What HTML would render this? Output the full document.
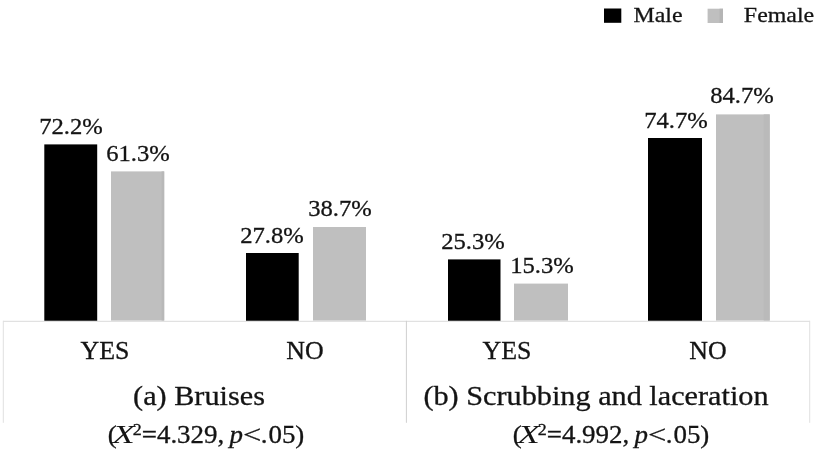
<!DOCTYPE html>
<html><head><meta charset="utf-8">
<style>
html,body{margin:0;padding:0;background:#fff;}
body{width:819px;height:465px;position:relative;overflow:hidden;font-family:"Liberation Serif",serif;color:#141414;}
svg{position:absolute;left:0;top:0;}
.t{-webkit-text-stroke:0.3px #141414;will-change:transform;position:absolute;white-space:nowrap;line-height:1;transform:translateX(-50%) scaleX(var(--sx,1));}
.v{font-size:23px;--sx:1.07;}
.lg{font-size:22px;--sx:1.085;}
.c{font-size:24.3px;--sx:1.065;}
.h{font-size:27.5px;--sx:1.10;}
.s{font-size:24.5px;--sx:1.10;word-spacing:-1.4px;}
.s i.x{-webkit-text-stroke:0;display:inline-block;transform:scaleX(1.35);margin:0 1.0px 0 -1.4px;}
.s .d{margin:0 0.8px 0 1.6px;}
.s .q{display:inline-block;transform:scaleX(1.2);transform-origin:0 50%;margin-right:0.8px;}
.s sup{font-size:67%;line-height:0;vertical-align:0.5em;}
</style></head><body>
<svg width="819" height="465" viewBox="0 0 819 465">
<!-- legend -->
<rect x="604" y="8.5" width="17.3" height="14.3" fill="#000"/>
<rect x="707.6" y="8.7" width="15.4" height="14.3" fill="#bfbfbf"/>
<!-- bars -->
<rect x="44.3" y="144.4" width="52.9" height="176.5" fill="#000"/>
<rect x="111" y="171.4" width="53.2" height="149.2" fill="#bfbfbf"/>
<rect x="246" y="253" width="52.7" height="67.9" fill="#000"/>
<rect x="313" y="227" width="53" height="93.6" fill="#bfbfbf"/>
<rect x="448" y="259.4" width="52.5" height="61.5" fill="#000"/>
<rect x="514" y="283.6" width="54" height="37" fill="#bfbfbf"/>
<rect x="648" y="138" width="54" height="182.9" fill="#000"/>
<rect x="716" y="114.4" width="53.7" height="206.2" fill="#bfbfbf"/>
<rect x="719.6" y="8.7" width="3.4" height="14.3" fill="#b5b5b5"/>
<rect x="763.7" y="114.4" width="6" height="206.2" fill="#bababa"/>
<rect x="161.6" y="171.4" width="2.6" height="149.2" fill="#b8b8b8"/>
<!-- axis lines -->
<rect x="3" y="320.8" width="807" height="1" fill="#dadada"/>
<rect x="2.8" y="320.8" width="1" height="102" fill="#e0e0e0"/>
<rect x="405.9" y="320.8" width="1" height="102" fill="#d0d0d0"/>
<rect x="809.2" y="320.8" width="1" height="102" fill="#e0e0e0"/>
</svg>
<!-- legend text -->
<div class="t lg" style="left:658.3px;top:3.6px">Male</div>
<div class="t lg" style="left:778.7px;top:3.6px">Female</div>
<!-- value labels -->
<div class="t v" style="left:70.5px;top:115px">72.2%</div>
<div class="t v" style="left:138px;top:142px">61.3%</div>
<div class="t v" style="left:271.5px;top:223.8px">27.8%</div>
<div class="t v" style="left:340px;top:197.3px">38.7%</div>
<div class="t v" style="left:473px;top:230px">25.3%</div>
<div class="t v" style="left:541.5px;top:254px">15.3%</div>
<div class="t v" style="left:675.5px;top:109px">74.7%</div>
<div class="t v" style="left:742px;top:84px">84.7%</div>
<!-- category labels -->
<div class="t c" style="left:104.5px;top:338.8px">YES</div>
<div class="t c" style="left:305px;top:338.8px">NO</div>
<div class="t c" style="left:507px;top:338.8px">YES</div>
<div class="t c" style="left:708px;top:338.8px">NO</div>
<!-- group titles -->
<div class="t h" style="left:198.8px;top:382px">(a) Bruises</div>
<div class="t h" style="left:595.8px;top:382px">(b) Scrubbing and laceration</div>
<div class="t s" style="left:205.7px;top:422.8px">(<i class="x">X</i><sup>2</sup>=4.329, <i>p</i><span class="q">&lt;</span><span class="d">.</span>05)</div>
<div class="t s" style="left:611px;top:422.8px">(<i class="x">X</i><sup>2</sup>=4.992, <i>p</i><span class="q">&lt;</span><span class="d">.</span>05)</div>
</body></html>
